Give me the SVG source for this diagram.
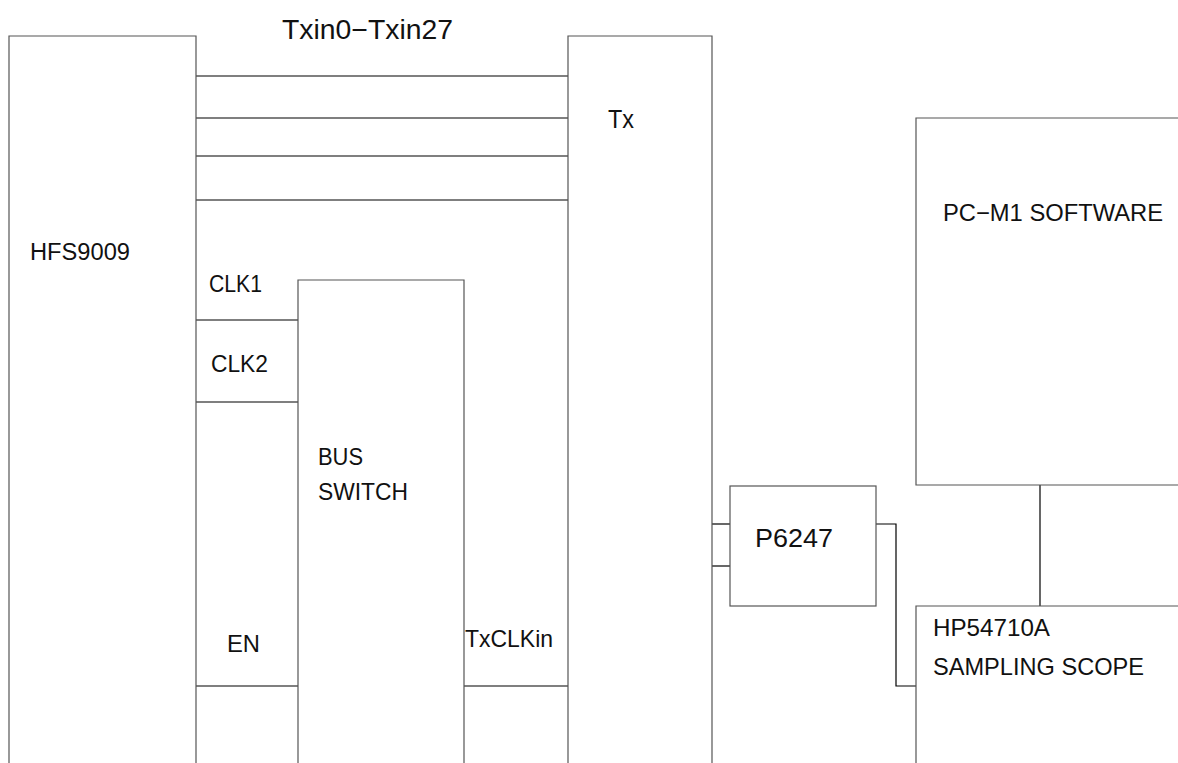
<svg xmlns="http://www.w3.org/2000/svg" width="1178" height="763" viewBox="0 0 1178 763">
<style>
.box{fill:none;stroke:#555;stroke-width:1.2}
.ln{fill:none;stroke:#000;stroke-width:1.2}
text{font-family:"Liberation Sans",Arial,sans-serif;fill:#111}
</style>
<rect width="1178" height="763" fill="#fff"/>
<g id="connectors">
<line class="ln" x1="196" y1="76" x2="568" y2="76"/>
<line class="ln" x1="196" y1="118" x2="568" y2="118"/>
<line class="ln" x1="196" y1="156" x2="568" y2="156"/>
<line class="ln" x1="196" y1="200" x2="568" y2="200"/>
<line class="ln" x1="196" y1="320" x2="298" y2="320"/>
<line class="ln" x1="196" y1="402" x2="298" y2="402"/>
<line class="ln" x1="196" y1="686" x2="298" y2="686"/>
<line class="ln" x1="464" y1="686" x2="568" y2="686"/>
<line class="ln" x1="712" y1="524" x2="730" y2="524"/>
<line class="ln" x1="712" y1="566" x2="730" y2="566"/>
<polyline class="ln" points="876,524 896,524 896,686 916,686"/>
<line class="ln" x1="1040" y1="485" x2="1040" y2="606"/>
<text x="282" y="39" font-size="28" textLength="171" lengthAdjust="spacingAndGlyphs">Txin0−Txin27</text>
<text x="209" y="292" font-size="24" textLength="53" lengthAdjust="spacingAndGlyphs">CLK1</text>
<text x="211" y="372" font-size="24" textLength="57" lengthAdjust="spacingAndGlyphs">CLK2</text>
<text x="227" y="652" font-size="24" textLength="33" lengthAdjust="spacingAndGlyphs">EN</text>
<text x="465" y="647" font-size="24" textLength="88" lengthAdjust="spacingAndGlyphs">TxCLKin</text>
</g>
<g id="hfs9009">
<polyline class="box" points="9,770 9,36 196,36 196,770"/>
<text x="30" y="260" font-size="23" textLength="100" lengthAdjust="spacingAndGlyphs">HFS9009</text>
</g>
<g id="tx">
<polyline class="box" points="568,770 568,36 712,36 712,770"/>
<text x="608" y="128" font-size="25" textLength="26" lengthAdjust="spacingAndGlyphs">Tx</text>
</g>
<g id="busswitch">
<polyline class="box" points="298,770 298,280 464,280 464,770"/>
<text x="318" y="465" font-size="24" textLength="45" lengthAdjust="spacingAndGlyphs">BUS</text>
<text x="318" y="500" font-size="24" textLength="90" lengthAdjust="spacingAndGlyphs">SWITCH</text>
</g>
<g id="p6247">
<rect class="box" x="730" y="486" width="146" height="120"/>
<text x="755" y="547" font-size="26" textLength="78" lengthAdjust="spacingAndGlyphs">P6247</text>
</g>
<g id="pcm1">
<polyline class="box" points="1180,118 916,118 916,485 1180,485"/>
<text x="943" y="221" font-size="24" textLength="220" lengthAdjust="spacingAndGlyphs">PC−M1  SOFTWARE</text>
</g>
<g id="hp54710a">
<polyline class="box" points="916,770 916,606 1180,606"/>
<text x="933" y="636" font-size="24" textLength="117" lengthAdjust="spacingAndGlyphs">HP54710A</text>
<text x="933" y="675" font-size="24" textLength="211" lengthAdjust="spacingAndGlyphs">SAMPLING  SCOPE</text>
</g>
</svg>
